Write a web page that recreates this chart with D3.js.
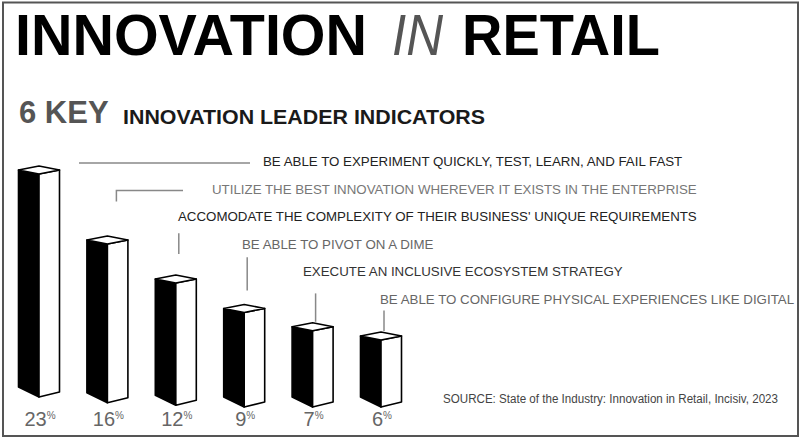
<!DOCTYPE html>
<html>
<head>
<meta charset="utf-8">
<script src="https://cdn.jsdelivr.net/npm/d3@7"></script>
<style>
  body { margin: 0; background: #fff; }
  text { font-family: "Liberation Sans", Arial, sans-serif; }
</style>
</head>
<body>
<div id="chart"></div>
<script>
// indicator labels, top to bottom
const indicators = [
    "BE ABLE TO EXPERIMENT QUICKLY, TEST, LEARN, AND FAIL FAST",
    "UTILIZE THE BEST INNOVATION WHEREVER IT EXISTS IN THE ENTERPRISE",
    "ACCOMODATE THE COMPLEXITY OF THEIR BUSINESS' UNIQUE REQUIREMENTS",
    "BE ABLE TO PIVOT ON A DIME",
    "EXECUTE AN INCLUSIVE ECOSYSTEM STRATEGY",
    "BE ABLE TO CONFIGURE PHYSICAL EXPERIENCES LIKE DIGITAL"
]
const percents = [23, 16, 12, 9, 7, 6]
const sourceNote = "SOURCE: State of the Industry: Innovation in Retail, Incisiv, 2023"

const width = 803
const height = 441

const svg = d3.select("#chart")
    .append("svg")
    .attr("width", width)
    .attr("height", height)

// frame
svg.append("rect")
    .attr("x", 3).attr("y", 2.5)
    .attr("width", 795).attr("height", 433.5)
    .attr("fill", "none")
    .attr("stroke", "#555")
    .attr("stroke-width", 2)

// title
svg.append("text").text("INNOVATION")
    .attr("x", 15).attr("y", 55)
    .attr("font-size", 58).attr("font-weight", "bold").attr("fill", "#000")
    .attr("textLength", 352).attr("lengthAdjust", "spacingAndGlyphs")
svg.append("text").text("IN")
    .attr("x", 392).attr("y", 55)
    .attr("font-size", 58).attr("font-style", "italic").attr("fill", "#555")
    .attr("textLength", 51).attr("lengthAdjust", "spacingAndGlyphs")
svg.append("text").text("RETAIL")
    .attr("x", 462).attr("y", 55)
    .attr("font-size", 58).attr("font-weight", "bold").attr("fill", "#000")
    .attr("textLength", 198).attr("lengthAdjust", "spacingAndGlyphs")

svg.append("text").text("6 KEY")
    .attr("x", 19).attr("y", 123)
    .attr("font-size", 31).attr("font-weight", "bold").attr("fill", "#555")
svg.append("text").text("INNOVATION LEADER INDICATORS")
    .attr("x", 123).attr("y", 123.5)
    .attr("font-size", 20.5).attr("font-weight", "bold").attr("fill", "#1a1a1a")
    .attr("textLength", 362).attr("lengthAdjust", "spacingAndGlyphs")

// scales
const idx = d3.range(percents.length)
const x = d3.scalePoint().domain(idx).range([39, 381])
const h = d3.scaleLinear().domain([0, 23]).range([12, 223])
const base = d3.scalePow().exponent(0.5).domain([0, 3]).range([397, 407]).clamp(true)
const hw = 20.5

const bars = svg.append("g")
idx.forEach(i => {
    const cx = x(i)
    const yB = base(i)
    const yT = yB - h(percents[i])
    const g = bars.append("g")
        .attr("stroke", "#000").attr("stroke-width", 1.6).attr("stroke-linejoin", "round")
    g.append("polygon")
        .attr("points", [[cx - hw, yT - 4], [cx, yT], [cx, yB], [cx - hw, yB - 10]].join(" "))
        .attr("fill", "#000")
    g.append("polygon")
        .attr("points", [[cx, yT], [cx + hw, yT - 4], [cx + hw, yB - 5], [cx, yB]].join(" "))
        .attr("fill", "#fff")
    g.append("polygon")
        .attr("points", [[cx - hw, yT - 4], [cx, yT - 8], [cx + hw, yT - 4], [cx, yT]].join(" "))
        .attr("fill", "#fff")

    const t = svg.append("text")
        .attr("x", cx + 1).attr("y", 426)
        .attr("text-anchor", "middle")
        .attr("fill", "#666")
        .attr("font-size", 20)
    t.append("tspan").text(percents[i])
    t.append("tspan").text("%").attr("font-size", 10).attr("dy", -7)
})

// callout rows
const textX = [263, 212, 178, 242, 303, 380]
const textColor = ["#222", "#777", "#222", "#666", "#333", "#666"]
const rowY = i => 166 + i * 27.6
const leaders = svg.append("g").attr("stroke", "#888").attr("stroke-width", 1.5).attr("fill", "none")

indicators.forEach((label, i) => {
    svg.append("text").text(label)
        .attr("x", textX[i]).attr("y", rowY(i))
        .attr("font-size", 13.3).attr("fill", textColor[i])

    const cx = x(i)
    const corner = base(i) - h(percents[i]) - 4
    if (i === 0) {
        leaders.append("path").attr("d", `M${cx + 40},${rowY(i) - 3}H${textX[i] - 13}`)
    } else if (i === 1) {
        leaders.append("path").attr("d", `M${cx + 9},${rowY(i) + 8}V${rowY(i) - 3}H${textX[i] - 29}`)
    } else {
        const gapTop = [0, 0, 12, 8.5, 17, 6.5][i]
        const gapBot = [0, 0, 25, 18, 5, 5][i]
        leaders.append("path").attr("d", `M${cx + 3},${rowY(i) + gapTop}V${corner - gapBot}`)
    }
})

svg.append("text").text(sourceNote)
    .attr("x", 443).attr("y", 403)
    .attr("font-family", "'Open Sans', sans-serif")
    .attr("font-size", 12).attr("fill", "#444")
    .attr("textLength", 335).attr("lengthAdjust", "spacingAndGlyphs")
</script>
</body>
</html>
